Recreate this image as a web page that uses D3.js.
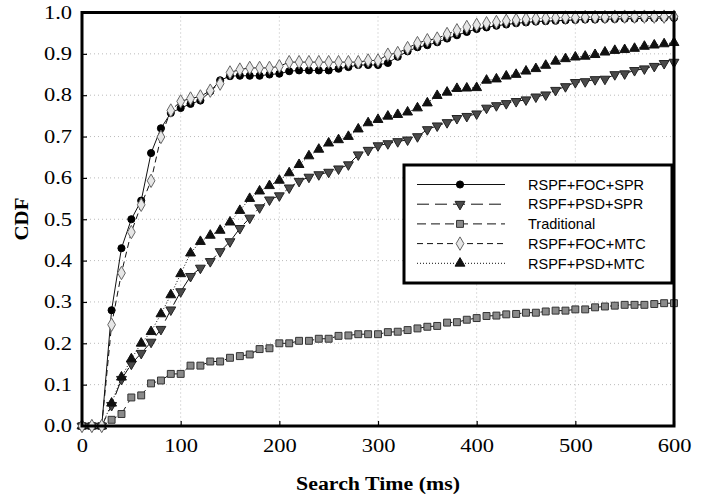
<!DOCTYPE html>
<html>
<head>
<meta charset="utf-8">
<script src="https://d3js.org/d3.v7.min.js"></script>
<style>
    body { margin: 0; background: #fff; }
    .tick text { font-family: "Liberation Serif", "Times New Roman", serif; font-size: 18px; fill: #000; }
    .legendText { font-family: "Liberation Sans", Arial, sans-serif; font-size: 14.5px; fill: #000; }
    .axisTitle { font-family: "Liberation Serif", "Times New Roman", serif; font-size: 19px; font-weight: bold; }
</style>
</head>
<body>
<script>
// search time samples (ms)
var times = [0, 10, 20, 30, 40, 50, 60, 70, 80, 90,
    100, 110, 120, 130, 140, 150, 160, 170, 180, 190,
    200, 210, 220, 230, 240, 250, 260, 270, 280, 290,
    300, 310, 320, 330, 340, 350, 360, 370, 380, 390,
    400, 410, 420, 430, 440, 450, 460, 470, 480, 490,
    500, 510, 520, 530, 540, 550, 560, 570, 580, 590,
    600];

// CDF values
var focSpr = [0, 0, 0, 0.28, 0.43, 0.50, 0.545, 0.66, 0.72, 0.757,
    0.769, 0.779, 0.787, 0.809, 0.836, 0.846, 0.847, 0.847, 0.847, 0.85,
    0.852, 0.858, 0.86, 0.86, 0.86, 0.86, 0.864, 0.868, 0.873, 0.873,
    0.873, 0.878, 0.893, 0.906, 0.916, 0.921, 0.928, 0.937, 0.945, 0.953,
    0.96, 0.964, 0.968, 0.971, 0.974, 0.976, 0.978, 0.979, 0.98, 0.981,
    0.982, 0.983, 0.983, 0.984, 0.984, 0.985, 0.985, 0.986, 0.986, 0.987,
    0.987];

var psdSpr = [0, 0, 0, 0.05, 0.113, 0.15, 0.176, 0.203, 0.234, 0.281,
    0.325, 0.362, 0.382, 0.398, 0.422, 0.446, 0.478, 0.503, 0.528, 0.547,
    0.557, 0.576, 0.592, 0.602, 0.608, 0.614, 0.622, 0.632, 0.656, 0.667,
    0.678, 0.683, 0.688, 0.692, 0.70, 0.717, 0.726, 0.734, 0.744, 0.749,
    0.755, 0.769, 0.775, 0.78, 0.785, 0.789, 0.796, 0.801, 0.812, 0.821,
    0.831, 0.833, 0.838, 0.839, 0.85, 0.852, 0.86, 0.864, 0.87, 0.877,
    0.88];

var traditional = [0, 0, 0, 0.015, 0.029, 0.069, 0.074, 0.103, 0.11, 0.126,
    0.126, 0.146, 0.146, 0.156, 0.156, 0.165, 0.169, 0.173, 0.186, 0.188,
    0.2, 0.2, 0.206, 0.206, 0.211, 0.211, 0.218, 0.219, 0.222, 0.222,
    0.222, 0.227, 0.228, 0.232, 0.236, 0.24, 0.242, 0.25, 0.251, 0.257,
    0.261, 0.266, 0.267, 0.27, 0.271, 0.274, 0.274, 0.277, 0.279, 0.279,
    0.282, 0.282, 0.287, 0.289, 0.291, 0.293, 0.293, 0.293, 0.295, 0.297,
    0.297];

var focMtc = [0, 0, 0, 0.245, 0.37, 0.469, 0.535, 0.593, 0.699, 0.763,
    0.785, 0.792, 0.797, 0.811, 0.828, 0.855, 0.862, 0.866, 0.866, 0.866,
    0.87, 0.88, 0.88, 0.88, 0.88, 0.88, 0.88, 0.88, 0.88, 0.884,
    0.884, 0.898, 0.902, 0.914, 0.926, 0.933, 0.937, 0.948, 0.957, 0.965,
    0.97, 0.974, 0.977, 0.98, 0.982, 0.984, 0.985, 0.986, 0.987, 0.988,
    0.988, 0.989, 0.989, 0.989, 0.99, 0.99, 0.99, 0.99, 0.99, 0.99,
    0.99];

var psdMtc = [0, 0, 0, 0.055, 0.118, 0.162, 0.2, 0.228, 0.271, 0.317,
    0.368, 0.418, 0.446, 0.461, 0.473, 0.493, 0.521, 0.55, 0.568, 0.581,
    0.594, 0.612, 0.632, 0.653, 0.669, 0.684, 0.692, 0.70, 0.718, 0.733,
    0.741, 0.749, 0.753, 0.759, 0.769, 0.781, 0.799, 0.807, 0.816, 0.817,
    0.818, 0.836, 0.839, 0.846, 0.85, 0.858, 0.864, 0.872, 0.882, 0.888,
    0.892, 0.894, 0.898, 0.904, 0.908, 0.91, 0.913, 0.918, 0.921, 0.924,
    0.927];

var seriesNames = ["RSPF+FOC+SPR", "RSPF+PSD+SPR", "Traditional", "RSPF+FOC+MTC", "RSPF+PSD+MTC"];
var xTicks = [0, 100, 200, 300, 400, 500, 600];
var yTicks = [0, 0.1, 0.2, 0.3, 0.4, 0.5, 0.6, 0.7, 0.8, 0.9, 1.0];

window.onload = function(){
    var w = 702, h = 497;
    var left = 82, right = 674, top = 12.5, bottom = 426;

    var svg = d3.select("body")
        .append("svg")
        .attr("width", w)
        .attr("height", h);

    var x = d3.scaleLinear().domain([0, 600]).range([left, right]);
    var y = d3.scaleLinear().domain([0, 1]).range([bottom, top]);

    // dotted grid
    var grid = svg.append("g").attr("class", "grid");
    grid.selectAll(".hgrid")
        .data(yTicks.slice(1, -1))
        .enter()
        .append("line")
        .attr("x1", left).attr("x2", right)
        .attr("y1", function(d){ return y(d); })
        .attr("y2", function(d){ return y(d); })
        .style("stroke", "#bbb")
        .style("stroke-dasharray", "1,3");
    grid.selectAll(".vgrid")
        .data(xTicks.slice(1, -1))
        .enter()
        .append("line")
        .attr("y1", top).attr("y2", bottom)
        .attr("x1", function(d){ return x(d); })
        .attr("x2", function(d){ return x(d); })
        .style("stroke", "#bbb")
        .style("stroke-dasharray", "1,3");

    // axes, ticks pointing inward
    var xAxis = svg.append("g")
        .attr("transform", "translate(0," + bottom + ")")
        .call(d3.axisBottom(x).tickValues(xTicks).tickSizeInner(-5).tickSizeOuter(0).tickPadding(13));
    var yAxis = svg.append("g")
        .attr("transform", "translate(" + left + ",0)")
        .call(d3.axisLeft(y).tickValues(yTicks).tickFormat(d3.format(".1f")).tickSizeInner(-5).tickSizeOuter(0).tickPadding(10));
    svg.selectAll(".domain").remove();
    svg.selectAll(".tick line").style("stroke", "#000").style("stroke-width", 1.2);

    // the source font is drawn a bit wide
    xAxis.selectAll(".tick text").attr("transform", "scale(1.25,1)");
    yAxis.selectAll(".tick text").attr("x", -8).attr("transform", "scale(1.25,1)");

    // series definitions
    var series = [
        { name: seriesNames[0], values: focSpr, dash: null, shape: d3.symbolCircle, size: 40, fill: "#000", stroke: "#000", rot: 0 },
        { name: seriesNames[1], values: psdSpr, dash: "12,6", shape: d3.symbolTriangle, size: 42, fill: "#4a4a4a", stroke: "#222", rot: 180 },
        { name: seriesNames[2], values: traditional, dash: "9,5", shape: d3.symbolSquare, size: 48, fill: "#8a8a8a", stroke: "#333", rot: 0 },
        { name: seriesNames[3], values: focMtc, dash: "6,4", shape: d3.symbolDiamond, size: 52, fill: "#e6e6e6", stroke: "#666", rot: 0 },
        { name: seriesNames[4], values: psdMtc, dash: "1,2", shape: d3.symbolTriangle, size: 42, fill: "#111", stroke: "#111", rot: 0 }
    ];

    var line = d3.line()
        .x(function(d, i){ return x(times[i]); })
        .y(function(d){ return y(d); });

    var drawOrder = [2, 1, 4, 0, 3];
    drawOrder.forEach(function(k){
        var s = series[k];
        var g = svg.append("g").attr("class", "series");
        g.append("path")
            .datum(s.values)
            .attr("d", line)
            .style("fill", "none")
            .style("stroke", "#111")
            .style("stroke-width", 1)
            .style("stroke-dasharray", s.dash);
        g.selectAll(".pt")
            .data(s.values)
            .enter()
            .append("path")
            .attr("class", "pt")
            .attr("d", d3.symbol().type(s.shape).size(s.size))
            .attr("transform", function(d, i){
                return "translate(" + x(times[i]) + "," + y(d) + ") rotate(" + s.rot + ")";
            })
            .style("fill", s.fill)
            .style("stroke", s.stroke)
            .style("stroke-width", 1);
    });

    // frame
    svg.append("rect")
        .attr("x", left).attr("y", top)
        .attr("width", right - left).attr("height", bottom - top)
        .style("fill", "none")
        .style("stroke", "#000")
        .style("stroke-width", 3);

    // legend
    var legend = svg.append("g").attr("class", "legend");
    legend.append("rect")
        .attr("x", 404).attr("y", 165)
        .attr("width", 268).attr("height", 118)
        .style("fill", "#fff")
        .style("stroke", "#000")
        .style("stroke-width", 3);

    series.forEach(function(s, i){
        var ly = 184.5 + i * 19.7;
        legend.append("line")
            .attr("x1", 417).attr("x2", 505)
            .attr("y1", ly).attr("y2", ly)
            .style("stroke", "#111")
            .style("stroke-width", 1)
            .style("stroke-dasharray", s.dash);
        legend.append("path")
            .attr("d", d3.symbol().type(s.shape).size(s.size))
            .attr("transform", "translate(460," + ly + ") rotate(" + s.rot + ")")
            .style("fill", s.fill)
            .style("stroke", s.stroke);
        legend.append("text")
            .attr("class", "legendText")
            .attr("x", 528)
            .attr("y", ly)
            .attr("dy", "0.36em")
            .text(s.name);
    });

    // axis titles
    svg.append("text")
        .attr("class", "axisTitle")
        .attr("text-anchor", "middle")
        .attr("transform", "translate(378,490) scale(1.15,1)")
        .text("Search Time (ms)");

    svg.append("text")
        .attr("class", "axisTitle")
        .attr("text-anchor", "middle")
        .attr("transform", "translate(28,219) rotate(-90) scale(1.1,1)")
        .text("CDF");
};
</script>
</body>
</html>
